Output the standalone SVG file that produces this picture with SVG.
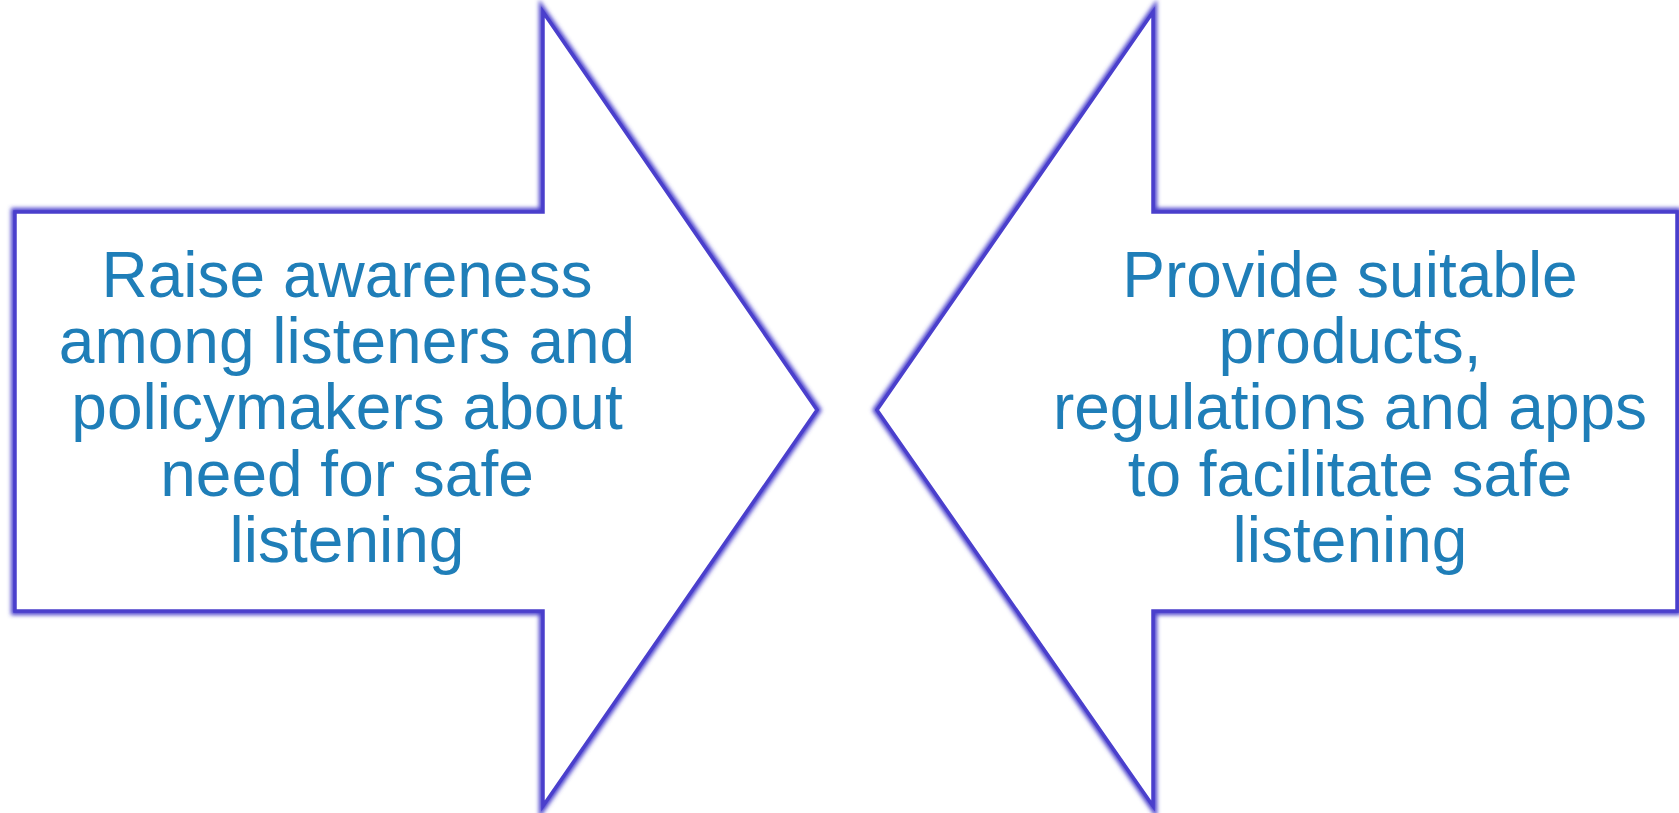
<svg xmlns="http://www.w3.org/2000/svg" width="1679" height="813" viewBox="0 0 1679 813">
  <style>
    .halo { fill: none; stroke: #4a3fcc; stroke-width: 8; stroke-linejoin: miter; filter: url(#soft); }
    .arrow { fill: #ffffff; stroke: #4a3fcc; stroke-width: 3.5; stroke-linejoin: miter; }
    .label { font-family: "Liberation Sans", Arial, sans-serif; font-size: 64px; fill: #1f7eb8; text-anchor: middle; }
  </style>
  <defs>
    <filter id="soft" x="-5%" y="-5%" width="110%" height="110%">
      <feGaussianBlur stdDeviation="2.2"/>
    </filter>
    <polygon id="shape-right" points="15,212 543,212 543,12 817,410 543,806 543,611 15,611"/>
    <polygon id="shape-left" points="1677,212 1153,212 1153,12 877,410 1153,806 1153,611 1677,611"/>
  </defs>
  <rect width="1679" height="813" fill="#ffffff"/>

  <g id="awareness">
    <use href="#shape-right" class="halo"/>
    <use href="#shape-right" class="arrow"/>
    <text class="label"><tspan x="347" y="297">Raise awareness</tspan><tspan x="347" y="363">among listeners and</tspan><tspan x="347" y="429">policymakers about</tspan><tspan x="347" y="496">need for safe</tspan><tspan x="347" y="562">listening</tspan></text>
  </g>

  <g id="provision">
    <use href="#shape-left" class="halo"/>
    <use href="#shape-left" class="arrow"/>
    <text class="label"><tspan x="1350" y="297">Provide suitable</tspan><tspan x="1350" y="363">products,</tspan><tspan x="1350" y="429">regulations and apps</tspan><tspan x="1350" y="496">to facilitate safe</tspan><tspan x="1350" y="562">listening</tspan></text>
  </g>

  <g id="connectors"/>
</svg>
